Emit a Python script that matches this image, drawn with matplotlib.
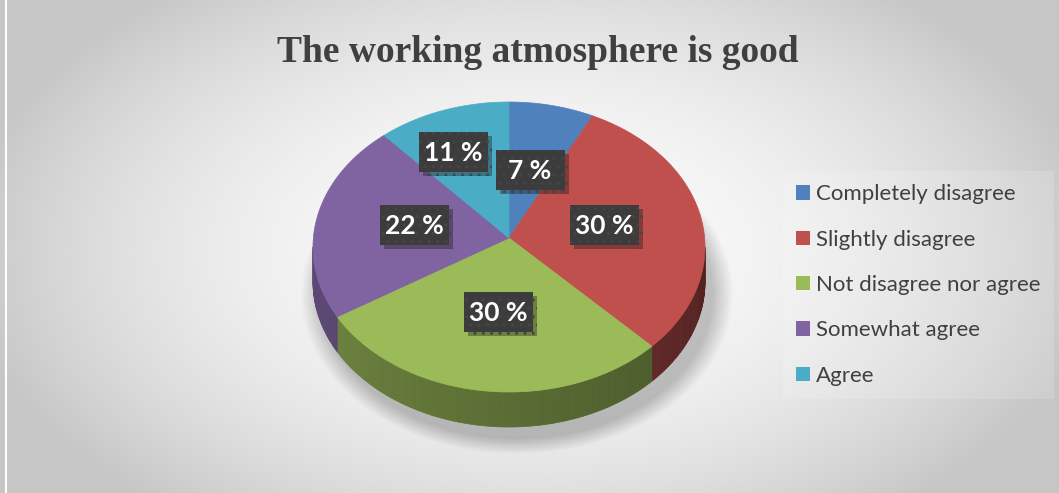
import numpy as np
import matplotlib.pyplot as plt
import matplotlib.patheffects as pe
from matplotlib.patches import Polygon, Ellipse, Patch, Rectangle
from matplotlib.collections import PolyCollection

# Veriler
categories = ["Completely disagree", "Slightly disagree", "Not disagree nor agree",
              "Somewhat agree", "Agree"]
values = [7, 30, 30, 22, 11]
labels = ["7 %", "30 %", "30 %", "22 %", "11 %"]
colors = ["#4F81BD", "#C0504D", "#9BBB59", "#8064A2", "#4BACC6"]
title = "The working atmosphere is good"

W, H = 1059, 493
fig = plt.figure(figsize=(W / 100, H / 100), dpi=100)
ax = fig.add_axes([0, 0, 1, 1])
ax.set_xlim(0, W)
ax.set_ylim(H, 0)
ax.axis("off")

# Arka plan: radyal gri gradyan
yy, xx = np.mgrid[0:H, 0:W]
r = np.sqrt(((xx - 530) / 560) ** 2 + ((yy - 250) / 330) ** 2)
bg = np.clip(0.985 - 0.2 * r ** 2, 0.78, 1)
ax.imshow(np.dstack([bg, bg, bg]), extent=(0, W, H, 0), zorder=0)
ax.plot([6, 6], [0, H], color="white", lw=1.5, zorder=1)

# Pasta geometrisi (piksel)
cx, cy, rx, ry = 509, 247, 196, 145
apex = (509, 238)
depth = 35


def pt(theta, dy=0.0):
    return cx + rx * np.sin(theta), cy - ry * np.cos(theta) + dy


def shade(c, f):
    c = np.array([int(c[i:i + 2], 16) for i in (1, 3, 5)]) / 255
    return tuple(c * f)


# Gölge
for k in range(18):
    s = 1 + k * 0.006
    ax.add_patch(Ellipse((cx + 8, cy + depth + 12), 2 * rx * s, 2 * ry * s,
                         color="black", alpha=0.012, lw=0, zorder=2))

fr = np.cumsum([0] + values) / sum(values)
bounds = 2 * np.pi * fr

# Yan yüzey (sadece alt yarı görünür)
polys, pcols = [], []
for i in range(len(values)):
    a0, a1 = max(bounds[i], np.pi / 2), min(bounds[i + 1], 3 * np.pi / 2)
    if a1 <= a0:
        continue
    th = np.linspace(a0, a1, int((a1 - a0) * 60) + 2)
    for t0, t1 in zip(th[:-1], th[1:]):
        x0, y0 = pt(t0)
        x1, y1 = pt(t1)
        polys.append([(x0, y0), (x1, y1), (x1, y1 + depth), (x0, y0 + depth)])
        f = 0.42 + 0.32 * ((t0 + t1) / 2 - np.pi / 2) / np.pi
        pcols.append(shade(colors[i], f))
ax.add_collection(PolyCollection(polys, facecolors=pcols, edgecolors=pcols,
                                 linewidths=0.5, zorder=3))

# Üst yüzey
for i in range(len(values)):
    th = np.linspace(bounds[i], bounds[i + 1], 200)
    xs, ys = pt(th)
    verts = [apex] + list(zip(xs, ys))
    ax.add_patch(Polygon(verts, closed=True, fc=colors[i], ec=colors[i],
                         lw=0.5, zorder=4))

# Etiketler (koyu kutular)
label_pos = [(530, 170), (604, 225), (498, 312), (414, 225), (453, 152)]
bw, bh = 69, 40
for (lx, ly), lab in zip(label_pos, labels):
    box = Rectangle((lx - bw / 2, ly - bh / 2), bw, bh, fc="#3c3c3c",
                    ec="#454545", lw=0, hatch="..", zorder=5)
    box.set_path_effects([pe.SimplePatchShadow(offset=(3, -3), alpha=0.35),
                          pe.Normal()])
    ax.add_patch(box)
    ax.text(lx, ly + 1, lab, fontsize=19, fontfamily="Lato", fontweight="bold",
            color="white", ha="center", va="center", zorder=6)

# Başlık
fig.text(538 / W, 1 - 53 / H, title, fontsize=27, fontfamily="Liberation Serif",
         fontweight="bold", color="#404040", ha="center", va="center")

# Lejant
handles = [Patch(fc=c, ec="none") for c in colors]
leg = fig.legend(handles, categories, loc="center left",
                 bbox_to_anchor=(783 / W, 1 - 285 / H), frameon=True,
                 prop={"family": "Lato", "size": 16}, labelcolor="#404040",
                 handlelength=0.62, handleheight=0.62, handletextpad=0.25,
                 labelspacing=1.14, borderpad=0.6, borderaxespad=0)
leg.get_frame().set_facecolor("white")
leg.get_frame().set_alpha(0.15)
leg.get_frame().set_edgecolor("none")
leg.get_frame().set_boxstyle("square", pad=0)

fig.savefig("out.png", dpi=100)
